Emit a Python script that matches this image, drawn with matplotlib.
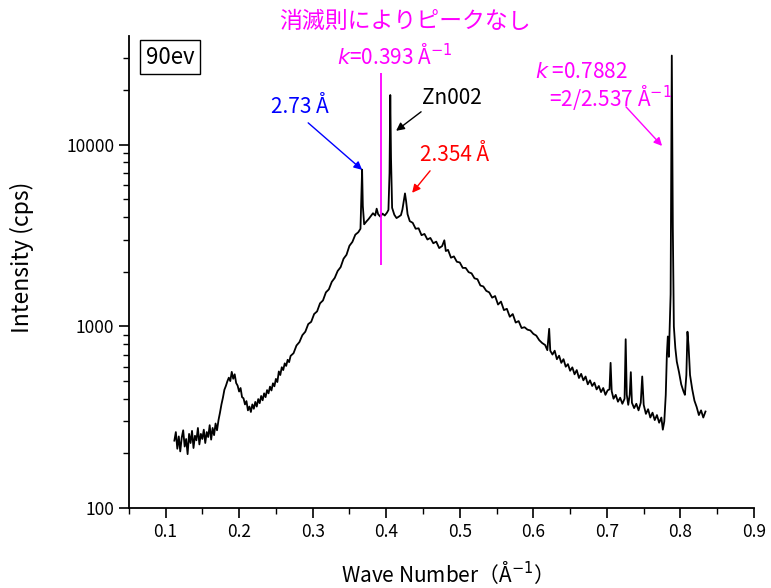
import matplotlib
matplotlib.use("Agg")
import matplotlib.pyplot as plt
from matplotlib.ticker import FixedLocator, LogLocator, NullFormatter, FixedFormatter

plt.rcParams['font.family'] = ['Noto Sans CJK JP', 'DejaVu Sans']
plt.rcParams['mathtext.fontset'] = 'dejavusans'

k_a = [0.112, 0.114, 0.116, 0.118, 0.120, 0.122, 0.124, 0.126, 0.128, 0.130,
       0.132, 0.134, 0.136, 0.138, 0.140, 0.142, 0.144, 0.146, 0.148, 0.150,
       0.152, 0.154, 0.156, 0.158, 0.160, 0.162, 0.164, 0.166, 0.168, 0.170]
i_a = [235, 262, 212, 248, 205, 244, 268, 218, 240, 198,
       256, 228, 266, 214, 250, 236, 276, 224, 256, 240,
       270, 228, 262, 246, 286, 238, 276, 252, 292, 268]

k_b = [0.172, 0.174, 0.176, 0.178, 0.180, 0.182, 0.184, 0.186, 0.188, 0.190,
       0.192, 0.194, 0.196, 0.198, 0.200, 0.202, 0.204, 0.206, 0.208, 0.210,
       0.212, 0.214, 0.216, 0.218, 0.220, 0.222, 0.224, 0.226, 0.228, 0.230,
       0.232, 0.234, 0.236, 0.238, 0.240, 0.242, 0.244, 0.246, 0.248, 0.250,
       0.252, 0.254, 0.256, 0.258, 0.260, 0.262, 0.264, 0.266, 0.268, 0.270]
i_b = [305, 335, 372, 405, 448, 470, 498, 522, 500, 562,
       515, 545, 488, 472, 438, 458, 408, 402, 372, 388,
       345, 362, 338, 372, 352, 384, 362, 398, 378, 414,
       392, 428, 408, 446, 428, 466, 444, 486, 468, 514,
       494, 565, 540, 596, 575, 626, 606, 655, 636, 688]

k_c = [0.274, 0.278, 0.282, 0.286, 0.290, 0.294, 0.298, 0.302, 0.306, 0.310,
       0.314, 0.318, 0.322, 0.326, 0.330, 0.334, 0.338, 0.342, 0.346, 0.350,
       0.354, 0.358, 0.362]
i_c = [712, 785, 820, 895, 935, 1030, 1060, 1170, 1210, 1340,
       1390, 1540, 1600, 1760, 1850, 2020, 2120, 2360, 2480, 2780,
       2920, 3200, 3300]

k_d = [0.365, 0.3662, 0.3672, 0.3682, 0.370, 0.373, 0.376, 0.379, 0.382, 0.385,
       0.387, 0.389, 0.392, 0.395, 0.398, 0.401, 0.403, 0.4045, 0.4055, 0.4065,
       0.408, 0.411, 0.414, 0.417, 0.420, 0.422, 0.424, 0.4255, 0.427, 0.429,
       0.432]
i_d = [3450, 5200, 7300, 4600, 3650, 3780, 3900, 4050, 4200, 4080,
       4450, 4150, 4020, 4180, 4080, 4230, 4380, 7000, 18800, 8500,
       4500, 4120, 3950, 4020, 4100, 4400, 4950, 5400, 4900, 4150,
       3800]

k_e = [0.436, 0.440, 0.444, 0.448, 0.452, 0.456, 0.460, 0.464, 0.468, 0.472,
       0.476, 0.479, 0.481,
       0.484, 0.488, 0.492, 0.496, 0.500, 0.504, 0.508, 0.512, 0.516, 0.520,
       0.524, 0.528, 0.532, 0.536, 0.540, 0.544, 0.548, 0.552, 0.556, 0.560,
       0.564, 0.568, 0.572, 0.576, 0.580, 0.584, 0.588, 0.592, 0.596, 0.600,
       0.604, 0.608, 0.612, 0.616, 0.619, 0.6215, 0.623]
i_e = [3720, 3450, 3470, 3180, 3230, 3010, 3070, 2870, 2930, 2700,
       2770, 2980, 2600,
       2640, 2390, 2430, 2270, 2250, 2100, 2100, 1990, 1960, 1840,
       1820, 1680, 1660, 1570, 1540, 1440, 1470, 1320, 1370, 1230,
       1250, 1130, 1170, 1050, 1070, 980, 990, 960, 950, 910,
       890, 840, 810, 790, 740, 970, 735]

k_f = [0.626, 0.629, 0.632, 0.635, 0.638, 0.641, 0.644, 0.647, 0.650, 0.653,
       0.656, 0.659, 0.662, 0.665, 0.668, 0.671, 0.674, 0.677, 0.680, 0.683,
       0.686, 0.689, 0.692, 0.695, 0.698, 0.701, 0.7035, 0.705, 0.7065, 0.709,
       0.712, 0.715, 0.718, 0.721, 0.724, 0.7255, 0.727, 0.729, 0.731, 0.7325,
       0.734, 0.737, 0.740, 0.743, 0.746, 0.748, 0.750, 0.753, 0.756, 0.759,
       0.762, 0.765, 0.768, 0.771, 0.774, 0.776, 0.778, 0.780, 0.7815, 0.7828,
       0.7842, 0.7866, 0.7882, 0.7896, 0.791, 0.793, 0.795, 0.798, 0.801, 0.804,
       0.806, 0.808, 0.8095, 0.811, 0.813, 0.816, 0.819, 0.822, 0.825, 0.828,
       0.831, 0.834]
i_f = [700, 735, 660, 690, 630, 660, 600, 620, 570, 595,
       545, 575, 520, 548, 505, 530, 480, 505, 470, 490,
       450, 470, 435, 458, 420, 445, 450, 630, 440, 400,
       420, 385, 405, 375, 400, 850, 420, 370, 420, 560,
       380, 355, 375, 345, 380, 530, 370, 330, 350, 315,
       335, 305, 325, 295, 315, 270, 300, 420, 700, 880,
       680, 1500, 31000, 3500, 1000, 760, 640, 560, 480, 440,
       420, 540, 935, 780, 540, 450, 390, 360, 325, 345,
       315, 340]

wave_number = k_a + k_b + k_c + k_d + k_e + k_f
intensity = i_a + i_b + i_c + i_d + i_e + i_f

k_extinct = 0.393
x_ticks = [0.1, 0.2, 0.3, 0.4, 0.5, 0.6, 0.7, 0.8, 0.9]
x_labels = ['0.1', '0.2', '0.3', '0.4', '0.5', '0.6', '0.7', '0.8', '0.9']
y_ticks = [100, 1000, 10000]
y_labels = ['100', '1000', '10000']

MAGENTA = '#FF00FF'

fig = plt.figure(figsize=(7.71, 5.88), dpi=100)
ax = fig.add_axes([0.167, 0.136, 0.811, 0.803])

ax.plot(wave_number, intensity, color='black', lw=1.3)
ax.vlines(k_extinct, 2180, 25000, color=MAGENTA, lw=1.3)

ax.set_yscale('log')
ax.set_xlim(0.05, 0.9)
ax.set_ylim(100, 39800)

ax.xaxis.set_major_locator(FixedLocator(x_ticks))
ax.xaxis.set_major_formatter(FixedFormatter(x_labels))
ax.xaxis.set_minor_locator(FixedLocator([0.05 + 0.1 * i for i in range(9)]))
ax.yaxis.set_major_locator(FixedLocator(y_ticks))
ax.yaxis.set_major_formatter(FixedFormatter(y_labels))
ax.yaxis.set_minor_locator(LogLocator(base=10, subs=range(2, 10)))
ax.yaxis.set_minor_formatter(NullFormatter())

for s in ['top', 'right']:
    ax.spines[s].set_visible(False)
for s in ['left', 'bottom']:
    ax.spines[s].set_linewidth(1.3)
ax.tick_params(which='major', direction='out', length=7, width=1.2, labelsize=12.5)
ax.tick_params(which='minor', direction='out', length=4, width=1.0)

ax.set_xlabel('Wave Number（Å$^{-1}$）', fontsize=15, labelpad=14)
ax.set_ylabel('Intensity (cps)', fontsize=16.5)
ax.yaxis.set_label_coords(-0.152, 0.532)

# labels and arrows
ax.text(0.066, 0.955, '90ev', transform=ax.transAxes, fontsize=16,
        ha='center', va='center',
        bbox=dict(boxstyle='square,pad=0.25', fc='white', ec='black', lw=1))

ax.text(0.4416, 1.03, '消滅則によりピークなし', transform=ax.transAxes,
        fontsize=16.5, color=MAGENTA, ha='center', va='center')
ax.text(0.4256, 0.9555, r'$k$=0.393 Å$^{-1}$', transform=ax.transAxes,
        fontsize=15, color=MAGENTA, ha='center', va='center')

arrow = dict(arrowstyle='-|>', lw=1.0, mutation_scale=12, shrinkA=0, shrinkB=0)

ax.text(0.2829, 16180, '2.73 Å', fontsize=15, color='blue', ha='center', va='center')
ax.annotate('', xy=(0.3673, 7280), xytext=(0.2939, 13210),
            arrowprops=dict(arrow, color='blue'))

ax.text(0.4895, 18150, 'Zn002', fontsize=15, color='black', ha='center', va='center')
ax.annotate('', xy=(0.4134, 11940), xytext=(0.4474, 15200),
            arrowprops=dict(arrow, color='black'))

ax.text(0.4923, 8810, '2.354 Å', fontsize=15, color='red', ha='center', va='center')
ax.annotate('', xy=(0.4352, 5440), xytext=(0.4596, 7190),
            arrowprops=dict(arrow, color='red'))

ax.text(0.666, 25230, r'$k$ =0.7882', fontsize=15, color=MAGENTA, ha='center', va='center')
ax.text(0.705, 18150, '=2/2.537 Å$^{-1}$', fontsize=15, color=MAGENTA, ha='center', va='center')
ax.annotate('', xy=(0.775, 9860), xytext=(0.726, 16180),
            arrowprops=dict(arrow, color=MAGENTA))

fig.savefig('out.png', dpi=100)
